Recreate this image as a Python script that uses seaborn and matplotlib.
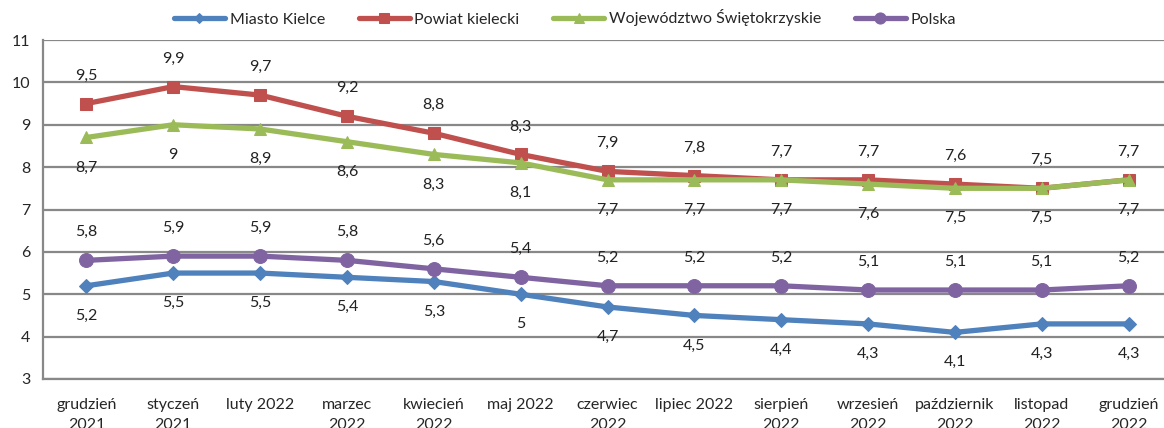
import numpy as np
import pandas as pd
import matplotlib
matplotlib.use("Agg")
import matplotlib.pyplot as plt
import seaborn as sns

# ------------------ Data ------------------
months = ['grudzień\n2021', 'styczeń\n2021', 'luty 2022', 'marzec\n2022', 'kwiecień\n2022',
          'maj 2022', 'czerwiec\n2022', 'lipiec 2022', 'sierpień\n2022', 'wrzesień\n2022',
          'październik\n2022', 'listopad\n2022', 'grudzień\n2022']
kielce = [5.2, 5.5, 5.5, 5.4, 5.3, 5.0, 4.7, 4.5, 4.4, 4.3, 4.1, 4.3, 4.3]
powiat = [9.5, 9.9, 9.7, 9.2, 8.8, 8.3, 7.9, 7.8, 7.7, 7.7, 7.6, 7.5, 7.7]
wojew = [8.7, 9.0, 8.9, 8.6, 8.3, 8.1, 7.7, 7.7, 7.7, 7.6, 7.5, 7.5, 7.7]
polska = [5.8, 5.9, 5.9, 5.8, 5.6, 5.4, 5.2, 5.2, 5.2, 5.1, 5.1, 5.1, 5.2]
series_names = ['Miasto Kielce', 'Powiat kielecki', 'Województwo Świętokrzyskie', 'Polska']

# ------------------ Styling ------------------
sns.set_style("white")
plt.rcParams['font.family'] = ['Lato', 'DejaVu Sans']

colors = ['#4F81BD', '#C0504D', '#9BBB59', '#8064A2']
markers = ['D', 's', '^', 'o']
msizes = [7, 9, 9, 10]
label_dy = [-30, 28, -30, 28]  # pixels, negative = below
grid_col = '#888888'
fs = 11.5

fig = plt.figure(figsize=(11.64, 4.28), dpi=100)
ax = fig.add_axes([43 / 1164, 1 - 379 / 428, (1172 - 43) / 1164, (379 - 40) / 428])

x = np.arange(len(months))
all_values = [kielce, powiat, wojew, polska]
for vals, name, c, m, ms in zip(all_values, series_names, colors, markers, msizes):
    df = pd.DataFrame({'x': x, 'y': vals})
    sns.lineplot(data=df, x='x', y='y', ax=ax, color=c, lw=3.8, marker=m,
                 markersize=ms, markeredgecolor=c, label=name, sort=False, zorder=3)

# data labels
for vals, dy in zip(all_values, label_dy):
    for xi, v in zip(x, vals):
        txt = f'{v:g}'.replace('.', ',')
        ax.annotate(txt, (xi, v), xytext=(0, dy), textcoords='offset pixels',
                    ha='center', va='center', fontsize=fs, color='#222222', zorder=4)

# ------------------ Axes ------------------
ax.set_xlim(-0.5, 12.5)
ax.set_ylim(3, 11)
ax.set_yticks(range(3, 12))
ax.set_xticks(x)
ax.set_xticklabels(months, fontsize=fs, linespacing=1.55)
ax.set_xticks(np.arange(-0.5, 12.6, 1), minor=True)
ax.tick_params(axis='x', which='major', length=0, pad=14)
ax.tick_params(axis='x', which='minor', length=5, width=1.5, color=grid_col, direction='out')
ax.tick_params(axis='y', length=5, width=1.5, color=grid_col, direction='out', labelsize=fs, pad=4)
ax.set_xlabel('')
ax.set_ylabel('')
ax.grid(axis='y', color=grid_col, lw=1.6, zorder=0)
ax.set_axisbelow(True)
for side in ['top', 'right']:
    ax.spines[side].set_visible(False)
for side in ['left', 'bottom']:
    ax.spines[side].set_color(grid_col)
    ax.spines[side].set_linewidth(1.6)

ax.legend(loc='center', bbox_to_anchor=(565 / 1164, 1 - 18 / 428), bbox_transform=fig.transFigure,
          ncol=4, frameon=False, fontsize=fs, handlelength=3.2, handletextpad=0.3,
          columnspacing=2.1, markerscale=0.8)

fig.savefig('out.png', dpi=100)
